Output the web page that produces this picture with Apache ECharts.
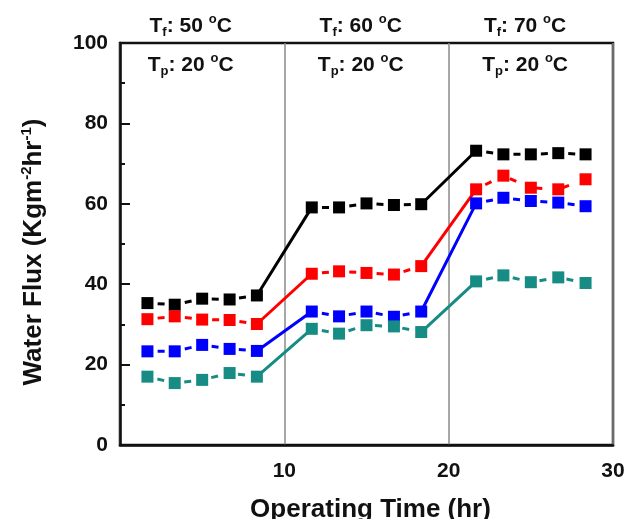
<!DOCTYPE html>
<html>
<head>
<meta charset="utf-8">
<script src="https://cdn.jsdelivr.net/npm/echarts@6/dist/echarts.min.js"></script>
<style>
  html, body { margin: 0; padding: 0; background: #fff; }
  #chart { width: 639px; height: 519px; }
</style>
</head>
<body>
<div id="chart"></div>
<script>
// operating time (hr) of each measurement
const times = [1.67, 3.33, 5, 6.67, 8.33, 11.67, 13.33, 15, 16.67, 18.33, 21.67, 23.33, 25, 26.67, 28.33]
// water flux (Kg m-2 hr-1)
const fluxBlack = [35.3, 34.9, 36.4, 36.2, 37.2, 59.1, 59.1, 60.1, 59.7, 59.9, 73.2, 72.3, 72.3, 72.6, 72.3]
const fluxRed = [31.3, 32.0, 31.2, 31.1, 30.1, 42.6, 43.2, 42.8, 42.4, 44.5, 63.6, 67.0, 64.0, 63.6, 66.1]
const fluxBlue = [23.3, 23.3, 24.9, 23.9, 23.4, 33.2, 32.0, 33.2, 31.9, 33.2, 60.1, 61.5, 60.7, 60.3, 59.4]
const fluxTeal = [17.0, 15.4, 16.2, 17.9, 17.0, 28.9, 27.7, 29.8, 29.5, 28.1, 40.7, 42.2, 40.5, 41.7, 40.3]
// first index of each temperature stage
const stageStarts = [0, 5, 10]
const feedTemps = ['50', '60', '70']
const permTemps = ['20', '20', '20']
const xTicks = [10, 20, 30]

const FONT = '"Liberation Sans", Arial, sans-serif'
const colors = ['#000000', '#ff0000', '#0000ff', '#178c84']
const allFlux = [fluxBlack, fluxRed, fluxBlue, fluxTeal]

const isStart = (i) => stageStarts.includes(i)

// dashed pieces within a stage, broken between stages
function stageData(vals) {
  const out = []
  times.forEach((t, i) => {
    if (i > 0 && isStart(i)) out.push([(times[i - 1] + t) / 2, '-'])
    out.push([t, vals[i]])
  })
  return out
}
// solid jumps from the last point of a stage to the first of the next
function jumpData(vals) {
  return times.map((t, i) => {
    const keep = isStart(i) && i > 0 || isStart(i + 1)
    return [t, keep ? vals[i] : '-']
  })
}

const series = []
allFlux.forEach((vals, k) => {
  series.push({
    type: 'line',
    data: jumpData(vals),
    symbol: 'none',
    connectNulls: false,
    silent: true,
    z: 2,
    lineStyle: { color: colors[k], width: 3 },
  })
})
allFlux.forEach((vals, k) => {
  series.push({
    type: 'line',
    data: stageData(vals),
    symbol: 'rect',
    symbolSize: 12,
    connectNulls: false,
    z: 3,
    itemStyle: { color: colors[k] },
    lineStyle: { color: colors[k], width: 3, type: [7, 20.4], dashOffset: 17.2 },
  })
})

const chart = echarts.init(document.getElementById('chart'), null, { renderer: 'canvas' })
chart.setOption({
  animation: false,
  backgroundColor: '#fff',
  textStyle: { fontFamily: FONT },
  grid: {
    left: 120, right: 26, top: 43, bottom: 74,
    outerBoundsMode: 'none', containLabel: false,
    show: true, borderColor: '#111', borderWidth: 2.5,
  },
  xAxis: {
    type: 'value',
    min: 0,
    max: 30,
    interval: 10,
    name: 'Operating Time (hr)',
    nameLocation: 'middle',
    nameGap: 52,
    nameTextStyle: { fontSize: 26, fontWeight: 'bold', color: '#111', fontFamily: FONT, padding: [0, 0, 0, 8] },
    axisLine: { lineStyle: { color: '#111', width: 2.5 } },
    axisTick: { show: false },
    axisLabel: {
      fontSize: 21, fontWeight: 'bold', color: '#111', margin: 16, fontFamily: FONT,
      formatter: (v) => (xTicks.includes(v) ? String(v) : ''),
    },
    splitLine: { show: true, lineStyle: { color: '#8a8a8a', width: 1.5 } },
  },
  yAxis: {
    type: 'value',
    min: 0,
    max: 100,
    interval: 20,
    name: 'Water Flux (Kgm{sup|-2}hr{sup|-1})',
    nameLocation: 'middle',
    nameRotate: 90,
    nameGap: 71,
    nameTextStyle: {
      fontSize: 26, fontWeight: 'bold', color: '#111', fontFamily: FONT, lineHeight: 30,
      padding: [0, 16, 0, 0],
      rich: {
        sup: { fontSize: 15, fontWeight: 'bold', color: '#111', fontFamily: FONT, lineHeight: 14, verticalAlign: 'top' },
      },
    },
    axisLine: { lineStyle: { color: '#111', width: 2.5 } },
    axisTick: { inside: true, length: 10, lineStyle: { color: '#111', width: 2 } },
    minorTick: { show: true, splitNumber: 2, length: 5, lineStyle: { color: '#111', width: 2 } },
    axisLabel: { fontSize: 21, fontWeight: 'bold', color: '#111', margin: 12, fontFamily: FONT },
    splitLine: { show: false },
  },
  series,
})

// stage labels above and inside the top of the plot
const labelX = [4.3, 14.65, 24.65]
const labelRich = {
  a: { fontSize: 21, fontWeight: 'bold', fill: '#111', fontFamily: FONT, lineHeight: 26 },
  sub: { fontSize: 13, fontWeight: 'bold', fill: '#111', fontFamily: FONT, lineHeight: 12, verticalAlign: 'bottom' },
  sup: { fontSize: 13, fontWeight: 'bold', fill: '#111', fontFamily: FONT, lineHeight: 12, verticalAlign: 'top' },
}
const graphic = []
labelX.forEach((x, i) => {
  const top = chart.convertToPixel({ gridIndex: 0 }, [x, 104.2])
  const inner = chart.convertToPixel({ gridIndex: 0 }, [x, 94.6])
  graphic.push({
    type: 'text', x: top[0], y: top[1], z: 10,
    style: {
      text: `{a|T}{sub|f}{a|: ${feedTemps[i]} }{sup|o}{a|C}`,
      rich: labelRich, align: 'center', verticalAlign: 'middle',
    },
  })
  graphic.push({
    type: 'text', x: inner[0], y: inner[1], z: 10,
    style: {
      text: `{a|T}{sub|p}{a|: ${permTemps[i]} }{sup|o}{a|C}`,
      rich: labelRich, align: 'center', verticalAlign: 'middle',
    },
  })
})
chart.setOption({ graphic })
</script>
</body>
</html>
